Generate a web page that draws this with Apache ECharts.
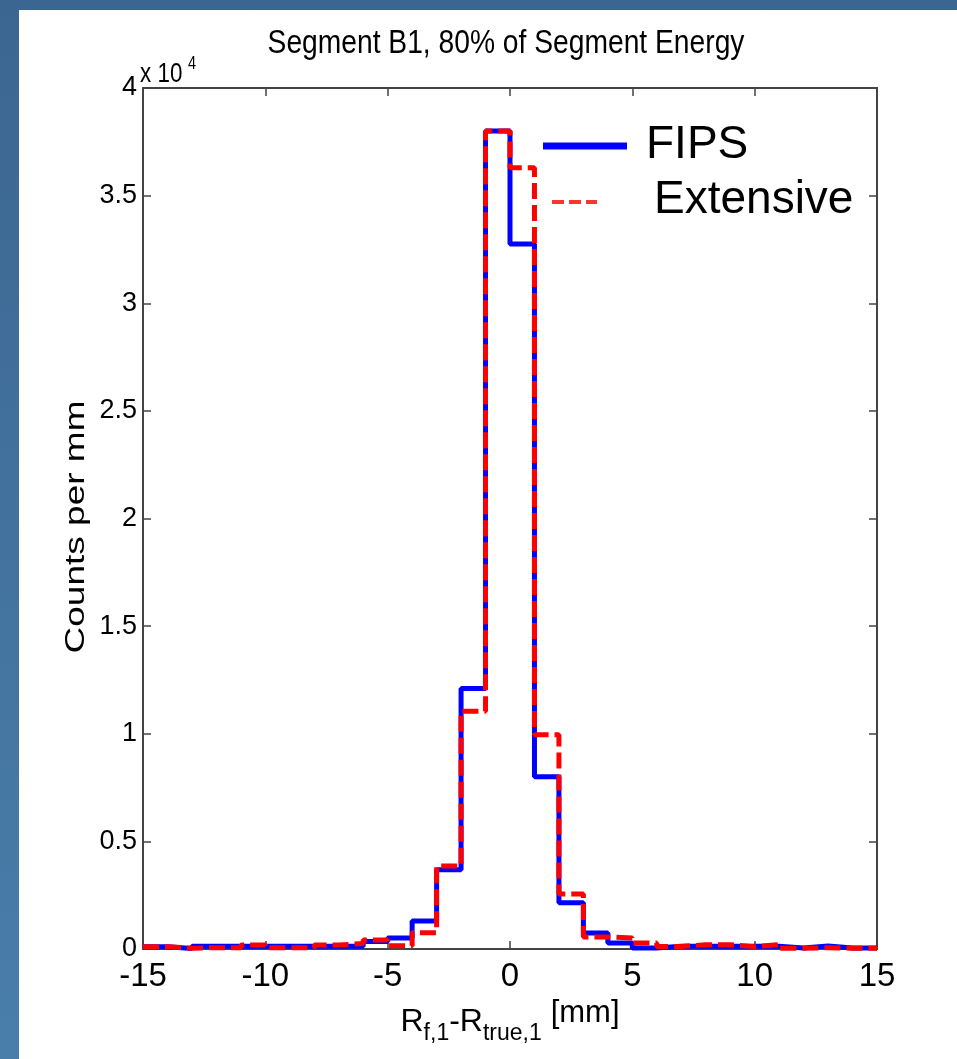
<!DOCTYPE html>
<html lang="en">
<head>
    <meta charset="utf-8">
    <title>Segment B1, 80% of Segment Energy</title>
    <script src="https://cdn.jsdelivr.net/npm/echarts@6/dist/echarts.min.js"></script>
    <style>
        html, body {
            width: 100%; height: 100%; margin: 0; padding: 0; overflow: hidden;
            background: linear-gradient(to bottom, #3b6691 0%, #4a7eaa 100%);
        }
        #chart {
            position: absolute; left: 19px; top: 10px; width: 938px; height: 1049px; background: #ffffff;
        }
    </style>
</head>
<body>
<div id="chart"></div>
<script type="text/javascript">
    // bin edges in mm (1 mm wide bins)
    var binEdges = [-15, -14, -13, -12, -11, -10, -9, -8, -7, -6, -5, -4, -3, -2, -1, 0,
                    1, 2, 3, 4, 5, 6, 7, 8, 9, 10, 11, 12, 13, 14, 15];
    // counts per mm, one value per bin
    var fipsCounts = [100, 20, 130, 130, 130, 130, 130, 130, 130, 350, 510, 1300, 3680, 12100, 38000,
                      32750, 8000, 2150, 740, 280, 50, 130, 130, 130, 130, 130, 50, 140, 50, 50];
    var extensiveCounts = [100, 40, 60, 60, 190, 60, 60, 190, 250, 420, 150, 760, 3860, 11050, 38000,
                           36300, 9950, 2550, 560, 510, 280, 120, 200, 200, 110, 200, 40, 60, 40, 40];
    var xTicks = [-15, -10, -5, 0, 5, 10, 15];
    var yTickLabels = ['0', '0.5', '1', '1.5', '2', '2.5', '3', '3.5', '4'];

    var font = "'Liberation Sans', Arial, sans-serif";

    // turn bin values into stair points
    function stairs(vals) {
        var pts = [];
        for (var i = 0; i < vals.length; i++) {
            pts.push([binEdges[i], vals[i]]);
            pts.push([binEdges[i + 1], vals[i]]);
        }
        return pts;
    }

    var myChart = echarts.init(document.getElementById('chart'));
    var axisColor = '#444444';

    var option = {
        animation: false,
        grid: { left: 124, top: 78, right: 80, bottom: 110 },
        xAxis: [{
            type: 'value',
            min: -15, max: 15, interval: 5,
            axisLine: { show: true, onZero: false, lineStyle: { color: axisColor, width: 2 } },
            axisTick: { show: true, inside: true, length: 8, lineStyle: { color: axisColor, width: 1.5 } },
            splitLine: { show: false },
            axisLabel: {
                margin: 11, fontFamily: font, fontSize: 33, color: '#000',
                formatter: function (v) { return xTicks.indexOf(v) >= 0 ? String(v) : ''; }
            },
            name: 'R{sub|f,1}-R{sub|true,1} {br|[mm]}',
            nameLocation: 'middle',
            nameGap: 49,
            nameTextStyle: {
                fontFamily: font, fontSize: 32, color: '#000', padding: [0, 0, 18, 0],
                rich: {
                    sub: { fontFamily: font, fontSize: 23, color: '#000', padding: [22, 0, 0, 0] },
                    br: { fontFamily: font, fontSize: 31, color: '#000', padding: [0, 0, 18, 0] }
                }
            }
        }, {
            type: 'value', position: 'top',
            min: -15, max: 15, interval: 5,
            axisLine: { show: true, onZero: false, lineStyle: { color: axisColor, width: 2 } },
            axisTick: { show: true, inside: true, length: 8, lineStyle: { color: axisColor, width: 1.5 } },
            axisLabel: { show: false },
            splitLine: { show: false }
        }],
        yAxis: [{
            type: 'value',
            min: 0, max: 40000, interval: 5000,
            axisLine: { show: true, onZero: false, lineStyle: { color: axisColor, width: 2 } },
            axisTick: { show: true, inside: true, length: 8, lineStyle: { color: axisColor, width: 1.5 } },
            splitLine: { show: false },
            axisLabel: {
                margin: 6, fontFamily: font, fontSize: 27, color: '#000',
                formatter: function (v) { return yTickLabels[Math.round(v / 5000)]; }
            }
        }, {
            type: 'value', position: 'right',
            min: 0, max: 40000, interval: 5000,
            axisLine: { show: true, onZero: false, lineStyle: { color: axisColor, width: 2 } },
            axisTick: { show: true, inside: true, length: 8, lineStyle: { color: axisColor, width: 1.5 } },
            axisLabel: { show: false },
            splitLine: { show: false }
        }],
        graphic: [
            // title, squeezed sideways like the source figure
            { type: 'text', x: 487, y: 17, scaleX: 0.83,
              style: { text: 'Segment B1, 80% of Segment Energy', fontFamily: font, fontSize: 34, fill: '#000',
                       textAlign: 'center', textVerticalAlign: 'top' } },
            // y axis title, rotated and squeezed the same way
            { type: 'text', x: 57, y: 517, rotation: Math.PI / 2, scaleY: 0.74,
              style: { text: 'Counts per mm', fontFamily: font, fontSize: 37, fill: '#000',
                       textAlign: 'center', textVerticalAlign: 'middle' } },
            { type: 'text', x: 121, y: 50, scaleX: 0.8,
              style: { text: 'x 10', fontFamily: font, fontSize: 28, fill: '#000' } },
            { type: 'text', x: 169, y: 45, scaleX: 0.8,
              style: { text: '4', fontFamily: font, fontSize: 18, fill: '#000' } },
            // legend
            { type: 'line', shape: { x1: 524, y1: 136, x2: 608, y2: 136 }, style: { stroke: '#0000ff', lineWidth: 7 } },
            { type: 'text', left: 627, top: 112, style: { text: 'FIPS', fontFamily: font, fontSize: 46, fill: '#000' } },
            { type: 'line', shape: { x1: 533, y1: 192, x2: 578, y2: 192 }, style: { stroke: '#ff3333', lineWidth: 4, lineDash: [12, 5] } },
            { type: 'text', left: 635, top: 167, style: { text: 'Extensive', fontFamily: font, fontSize: 46, fill: '#000' } }
        ],
        series: [{
            name: 'FIPS',
            type: 'line',
            xAxisIndex: 0, yAxisIndex: 0,
            data: stairs(fipsCounts),
            symbol: 'none',
            lineStyle: { color: '#0000ff', width: 5 },
            z: 2
        }, {
            name: 'Extensive',
            type: 'line',
            xAxisIndex: 0, yAxisIndex: 0,
            data: stairs(extensiveCounts),
            symbol: 'none',
            lineStyle: { color: '#ff0000', width: 5, type: [16, 6] },
            z: 3
        }]
    };

    myChart.setOption(option);
</script>
</body>
</html>
